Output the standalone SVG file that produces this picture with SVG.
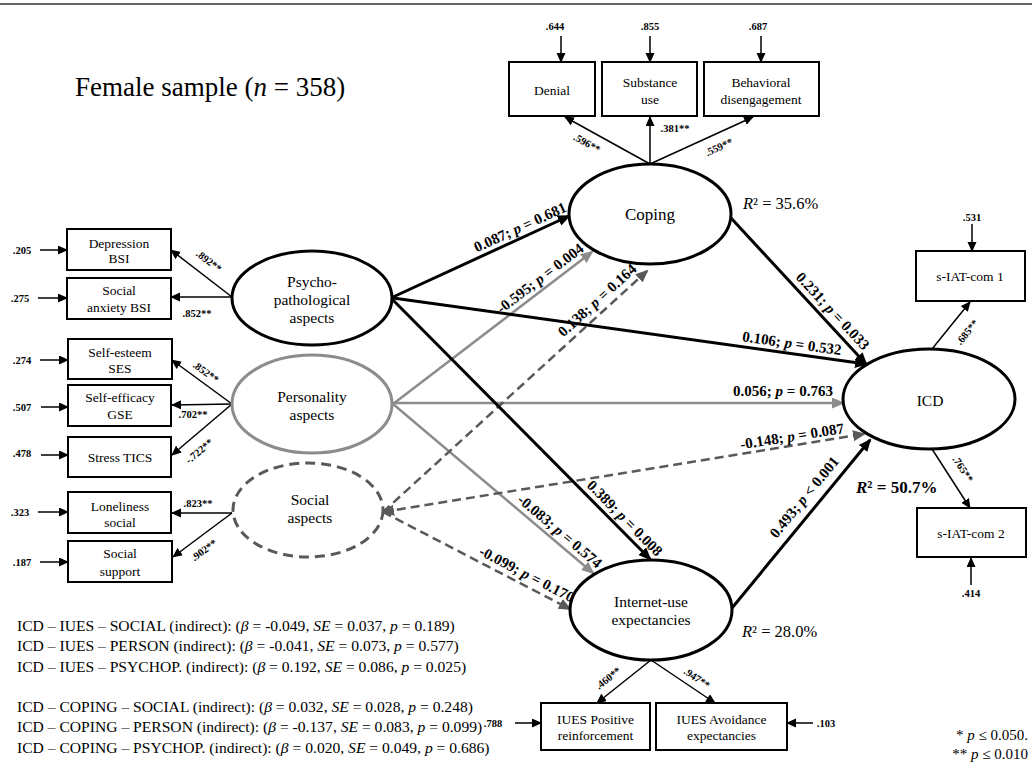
<svg xmlns="http://www.w3.org/2000/svg" width="1032" height="779" viewBox="0 0 1032 779">
<defs>
<style>
text{font-family:"Liberation Serif","Times New Roman",serif;fill:#000}
.box{fill:#fff;stroke:#000;stroke-width:2}
.bt{font-size:13.5px;text-anchor:middle}
.et{font-size:15.5px;text-anchor:middle}
.lab{font-size:15px;font-weight:bold;text-anchor:middle}
.ld{font-size:10.5px;font-weight:bold;text-anchor:middle}
.err{font-size:10.5px;font-weight:bold;text-anchor:middle}
.thin{stroke:#000;stroke-width:1.5;fill:none;marker-end:url(#as)}
.pb{stroke:#000;stroke-width:3;fill:none;marker-end:url(#ab)}
.pg{stroke:#8c8c8c;stroke-width:2.5;fill:none;marker-end:url(#ag)}
.pd{stroke:#595959;stroke-width:2.5;fill:none;stroke-dasharray:9 5;marker-end:url(#ad)}
.ind{font-size:15.6px}
</style>
<marker id="as" markerUnits="userSpaceOnUse" markerWidth="11" markerHeight="10" refX="9" refY="4.5" orient="auto"><path d="M0,0 L10,4.5 L0,9 z" fill="#000"/></marker>
<marker id="ab" markerUnits="userSpaceOnUse" markerWidth="14" markerHeight="12" refX="11" refY="5.5" orient="auto"><path d="M0,0 L13,5.5 L0,11 z" fill="#000"/></marker>
<marker id="ag" markerUnits="userSpaceOnUse" markerWidth="14" markerHeight="12" refX="11" refY="5.5" orient="auto"><path d="M0,0 L13,5.5 L0,11 z" fill="#8c8c8c"/></marker>
<marker id="ad" markerUnits="userSpaceOnUse" markerWidth="14" markerHeight="12" refX="11" refY="5.5" orient="auto-start-reverse"><path d="M0,0 L13,5.5 L0,11 z" fill="#595959"/></marker>
</defs>
<rect width="1032" height="779" fill="#fff"/>
<line x1="0" y1="4" x2="1032" y2="4" stroke="#333" stroke-width="1.5"/>
<text x="75" y="96" font-size="27px">Female sample (<tspan font-style="italic">n</tspan> = 358)</text>

<g id="connectors">
<path class="thin" d="M232,297 L171,250"/>
<path class="thin" d="M232,297 L171,297"/>
<path class="thin" d="M232,404 L172,360"/>
<path class="thin" d="M232,404 L172,405"/>
<path class="thin" d="M232,404 L172,455"/>
<path class="thin" d="M232,513 L172,513"/>
<path class="thin" d="M232,513 L173,557"/>
<path class="thin" d="M40,250 L67,250"/>
<path class="thin" d="M38,298 L67,298"/>
<path class="thin" d="M40,360 L68,360"/>
<path class="thin" d="M41,407 L68,407"/>
<path class="thin" d="M41,455 L68,455"/>
<path class="thin" d="M38,512 L68,512"/>
<path class="thin" d="M40,562 L68,562"/>
<path class="thin" d="M650,164 L565,117"/>
<path class="thin" d="M650,164 L650,117"/>
<path class="thin" d="M650,164 L753,117"/>
<path class="thin" d="M561,36 L561,62"/>
<path class="thin" d="M650,36 L650,62"/>
<path class="thin" d="M761,36 L761,62"/>
<path class="thin" d="M932,349 L970,302"/>
<path class="thin" d="M932,449 L970,508"/>
<path class="thin" d="M972,224 L972,251"/>
<path class="thin" d="M971,585 L971,558"/>
<path class="thin" d="M651,660 L597,703"/>
<path class="thin" d="M651,660 L715,703"/>
<path class="thin" d="M515,723 L541,723"/>
<path class="thin" d="M813,723 L787,723"/>
<path class="pg" d="M393,404 L592,252"/>
<path class="pg" d="M393,403 L843,403"/>
<path class="pg" d="M393,404 L593,573"/>
<path class="pd" d="M383,512 L647,271"/>
<path class="pd" d="M383,512 L864,434" style="marker-start:url(#ad)"/>
<path class="pd" d="M383,512 L570,609"/>
<path class="pb" d="M393,297 L569,216"/>
<path class="pb" d="M393,298 L866,364"/>
<path class="pb" d="M390,297 L650,559"/>
<path class="pb" d="M731,218 L866,364"/>
<path class="pb" d="M732,608 L870,440"/>
</g>

<g id="labels">
<text class="ld" transform="translate(209,261) rotate(37.6)" dy="0.35em">.892**</text>
<text class="ld" x="197" y="317">.852**</text>
<text class="ld" transform="translate(206,372) rotate(36)" dy="0.35em">.852**</text>
<text class="ld" x="193" y="418">.702**</text>
<text class="ld" transform="translate(199,451) rotate(-40)" dy="0.35em">-.722**</text>
<text class="ld" x="198" y="507">.823**</text>
<text class="ld" transform="translate(204,550) rotate(-36)" dy="0.35em">.902**</text>
<text class="err" x="22" y="254">.205</text>
<text class="err" x="20" y="302">.275</text>
<text class="err" x="22" y="364">.274</text>
<text class="err" x="22" y="411">.507</text>
<text class="err" x="22" y="457">.478</text>
<text class="err" x="20" y="516">.323</text>
<text class="err" x="22" y="566">.187</text>
<text class="err" x="555" y="30">.644</text>
<text class="err" x="650" y="30">.855</text>
<text class="err" x="758" y="30">.687</text>
<text class="ld" transform="translate(587,143) rotate(29)" dy="0.35em">.596**</text>
<text class="ld" x="675" y="132">.381**</text>
<text class="ld" transform="translate(719,147) rotate(-25)" dy="0.35em">.559**</text>
<text class="err" x="972" y="221">.531</text>
<text class="err" x="971" y="597">.414</text>
<text class="ld" transform="translate(967,332) rotate(-51)" dy="0.35em">.685**</text>
<text class="ld" transform="translate(963,469) rotate(57)" dy="0.35em">.765**</text>
<text class="ld" transform="translate(608,678) rotate(-38.5)" dy="0.35em">.460**</text>
<text class="ld" transform="translate(697,678) rotate(34)" dy="0.35em">.947**</text>
<text class="err" x="493" y="727">.788</text>
<text class="err" x="826" y="727">.103</text>
<text class="lab" transform="translate(520,227) rotate(-24.7)" dy="0.35em">0.087; <tspan font-style="italic">p</tspan> = 0.681</text>
<text class="lab" transform="translate(540,278) rotate(-37.4)" dy="0.35em">-0.595; <tspan font-style="italic">p</tspan> = 0.004</text>
<text class="lab" transform="translate(597,300) rotate(-42.3)" dy="0.35em">0.138; <tspan font-style="italic">p</tspan> = 0.164</text>
<text class="lab" transform="translate(792,343) rotate(8)" dy="0.35em">0.106; <tspan font-style="italic">p</tspan> = 0.532</text>
<text class="lab" transform="translate(783,391)" dy="0.35em">0.056; <tspan font-style="italic">p</tspan> = 0.763</text>
<text class="lab" transform="translate(792,436) rotate(-9)" dy="0.35em">-0.148; <tspan font-style="italic">p</tspan> = 0.087</text>
<text class="lab" transform="translate(833,311) rotate(47)" dy="0.35em">0.231; <tspan font-style="italic">p</tspan> = 0.033</text>
<text class="lab" transform="translate(804,497) rotate(-50.7)" dy="0.35em">0.493; <tspan font-style="italic">p</tspan> &lt; 0.001</text>
<text class="lab" transform="translate(625,518) rotate(45.2)" dy="0.35em">0.389; <tspan font-style="italic">p</tspan> = 0.008</text>
<text class="lab" transform="translate(560,531) rotate(40.2)" dy="0.35em">-0.083; <tspan font-style="italic">p</tspan> = 0.574</text>
<text class="lab" transform="translate(527,574) rotate(27.4)" dy="0.35em">-0.099; <tspan font-style="italic">p</tspan> = 0.170</text>
<text x="743" y="209" font-size="16.5px"><tspan font-style="italic">R</tspan>² = 35.6%</text>
<text x="742" y="637" font-size="16.5px"><tspan font-style="italic">R</tspan>² = 28.0%</text>
<text x="856" y="493" font-size="17px" font-weight="bold"><tspan font-style="italic">R</tspan>² = 50.7%</text>
</g>

<g id="depression"><rect class="box" x="67" y="229" width="104" height="41"/><text class="bt" x="119" y="247.5">Depression</text><text class="bt" x="119" y="263">BSI</text></g>
<g id="social-anxiety"><rect class="box" x="67" y="278" width="104" height="41"/><text class="bt" x="119" y="294.5">Social</text><text class="bt" x="119" y="311.5">anxiety BSI</text></g>
<g id="self-esteem"><rect class="box" x="68" y="339" width="104" height="40"/><text class="bt" x="120" y="356.5">Self-esteem</text><text class="bt" x="120" y="372.5">SES</text></g>
<g id="self-efficacy"><rect class="box" x="68" y="385" width="103" height="41"/><text class="bt" x="120" y="401.5">Self-efficacy</text><text class="bt" x="120" y="418.5">GSE</text></g>
<g id="stress"><rect class="box" x="68" y="437" width="103" height="40"/><text class="bt" x="120" y="461.5">Stress TICS</text></g>
<g id="loneliness"><rect class="box" x="68" y="492" width="103" height="41"/><text class="bt" x="120" y="510.5">Loneliness</text><text class="bt" x="120" y="526.5">social</text></g>
<g id="social-support"><rect class="box" x="68" y="541" width="104" height="41"/><text class="bt" x="120" y="557.5">Social</text><text class="bt" x="120" y="575.5">support</text></g>

<g id="denial"><rect class="box" x="509" y="62" width="86" height="54"/><text class="bt" x="552" y="94.5">Denial</text></g>
<g id="substance"><rect class="box" x="602" y="62" width="95" height="54"/><text class="bt" x="650" y="86.5">Substance</text><text class="bt" x="650" y="103.5">use</text></g>
<g id="behavioral"><rect class="box" x="704" y="62" width="115" height="54"/><text class="bt" x="761" y="86.5">Behavioral</text><text class="bt" x="761" y="103.5">disengagement</text></g>

<g id="siat1"><rect class="box" x="916" y="251" width="109" height="50"/><text class="bt" x="970" y="281">s-IAT-com 1</text></g>
<g id="siat2"><rect class="box" x="917" y="508" width="109" height="49"/><text class="bt" x="971" y="538">s-IAT-com 2</text></g>

<g id="iues-pos"><rect class="box" x="541" y="703" width="109" height="47"/><text class="bt" x="595.5" y="723.5">IUES Positive</text><text class="bt" x="595.5" y="739.5">reinforcement</text></g>
<g id="iues-avoid"><rect class="box" x="656" y="703" width="131" height="47"/><text class="bt" x="721.5" y="723.5">IUES Avoidance</text><text class="bt" x="721.5" y="739.5">expectancies</text></g>

<g id="psycho"><ellipse cx="312" cy="298" rx="80" ry="47" fill="#fff" stroke="#000" stroke-width="3"/><text class="et" x="312" y="287">Psycho-</text><text class="et" x="312" y="305">pathological</text><text class="et" x="312" y="323">aspects</text></g>
<g id="personality"><ellipse cx="312" cy="404" rx="80" ry="49" fill="#fff" stroke="#8c8c8c" stroke-width="3"/><text class="et" x="312" y="402">Personality</text><text class="et" x="312" y="420">aspects</text></g>
<g id="social"><ellipse cx="308" cy="510" rx="75" ry="47" fill="#fff" stroke="#595959" stroke-width="3" stroke-dasharray="10 6"/><text class="et" x="310" y="505">Social</text><text class="et" x="310" y="523">aspects</text></g>
<g id="coping"><ellipse cx="650" cy="214" rx="81" ry="50" fill="#fff" stroke="#000" stroke-width="3"/><text x="650" y="220" font-size="17px" text-anchor="middle">Coping</text></g>
<g id="icd"><ellipse cx="929" cy="399" rx="86" ry="50" fill="#fff" stroke="#000" stroke-width="3"/><text class="et" x="930" y="406" font-size="16px">ICD</text></g>
<g id="iues"><ellipse cx="651" cy="610" rx="81" ry="50" fill="#fff" stroke="#000" stroke-width="3"/><text class="et" x="651" y="607">Internet-use</text><text class="et" x="651" y="625">expectancies</text></g>

<g id="indirect">
<text class="ind" x="17" y="630.5">ICD – IUES – SOCIAL (indirect): (<tspan font-style="italic">β</tspan> = -0.049, <tspan font-style="italic">SE</tspan> = 0.037, <tspan font-style="italic">p</tspan> = 0.189)</text>
<text class="ind" x="17" y="651">ICD – IUES – PERSON (indirect): (<tspan font-style="italic">β</tspan> = -0.041, <tspan font-style="italic">SE</tspan> = 0.073, <tspan font-style="italic">p</tspan> = 0.577)</text>
<text class="ind" x="17" y="671.5">ICD – IUES – PSYCHOP. (indirect): (<tspan font-style="italic">β</tspan> = 0.192, <tspan font-style="italic">SE</tspan> = 0.086, <tspan font-style="italic">p</tspan> = 0.025)</text>
<text class="ind" x="17" y="711.5">ICD – COPING – SOCIAL (indirect): (<tspan font-style="italic">β</tspan> = 0.032, <tspan font-style="italic">SE</tspan> = 0.028, <tspan font-style="italic">p</tspan> = 0.248)</text>
<text class="ind" x="17" y="732">ICD – COPING – PERSON (indirect): (<tspan font-style="italic">β</tspan> = -0.137, <tspan font-style="italic">SE</tspan> = 0.083, <tspan font-style="italic">p</tspan> = 0.099)</text>
<text class="ind" x="17" y="752.5">ICD – COPING – PSYCHOP. (indirect): (<tspan font-style="italic">β</tspan> = 0.020, <tspan font-style="italic">SE</tspan> = 0.049, <tspan font-style="italic">p</tspan> = 0.686)</text>
</g>
<g id="footnote">
<text x="1028" y="740" font-size="15px" text-anchor="end">* <tspan font-style="italic">p</tspan> ≤ 0.050.</text>
<text x="1028" y="759" font-size="15px" text-anchor="end">** <tspan font-style="italic">p</tspan> ≤ 0.010</text>
</g>
</svg>
